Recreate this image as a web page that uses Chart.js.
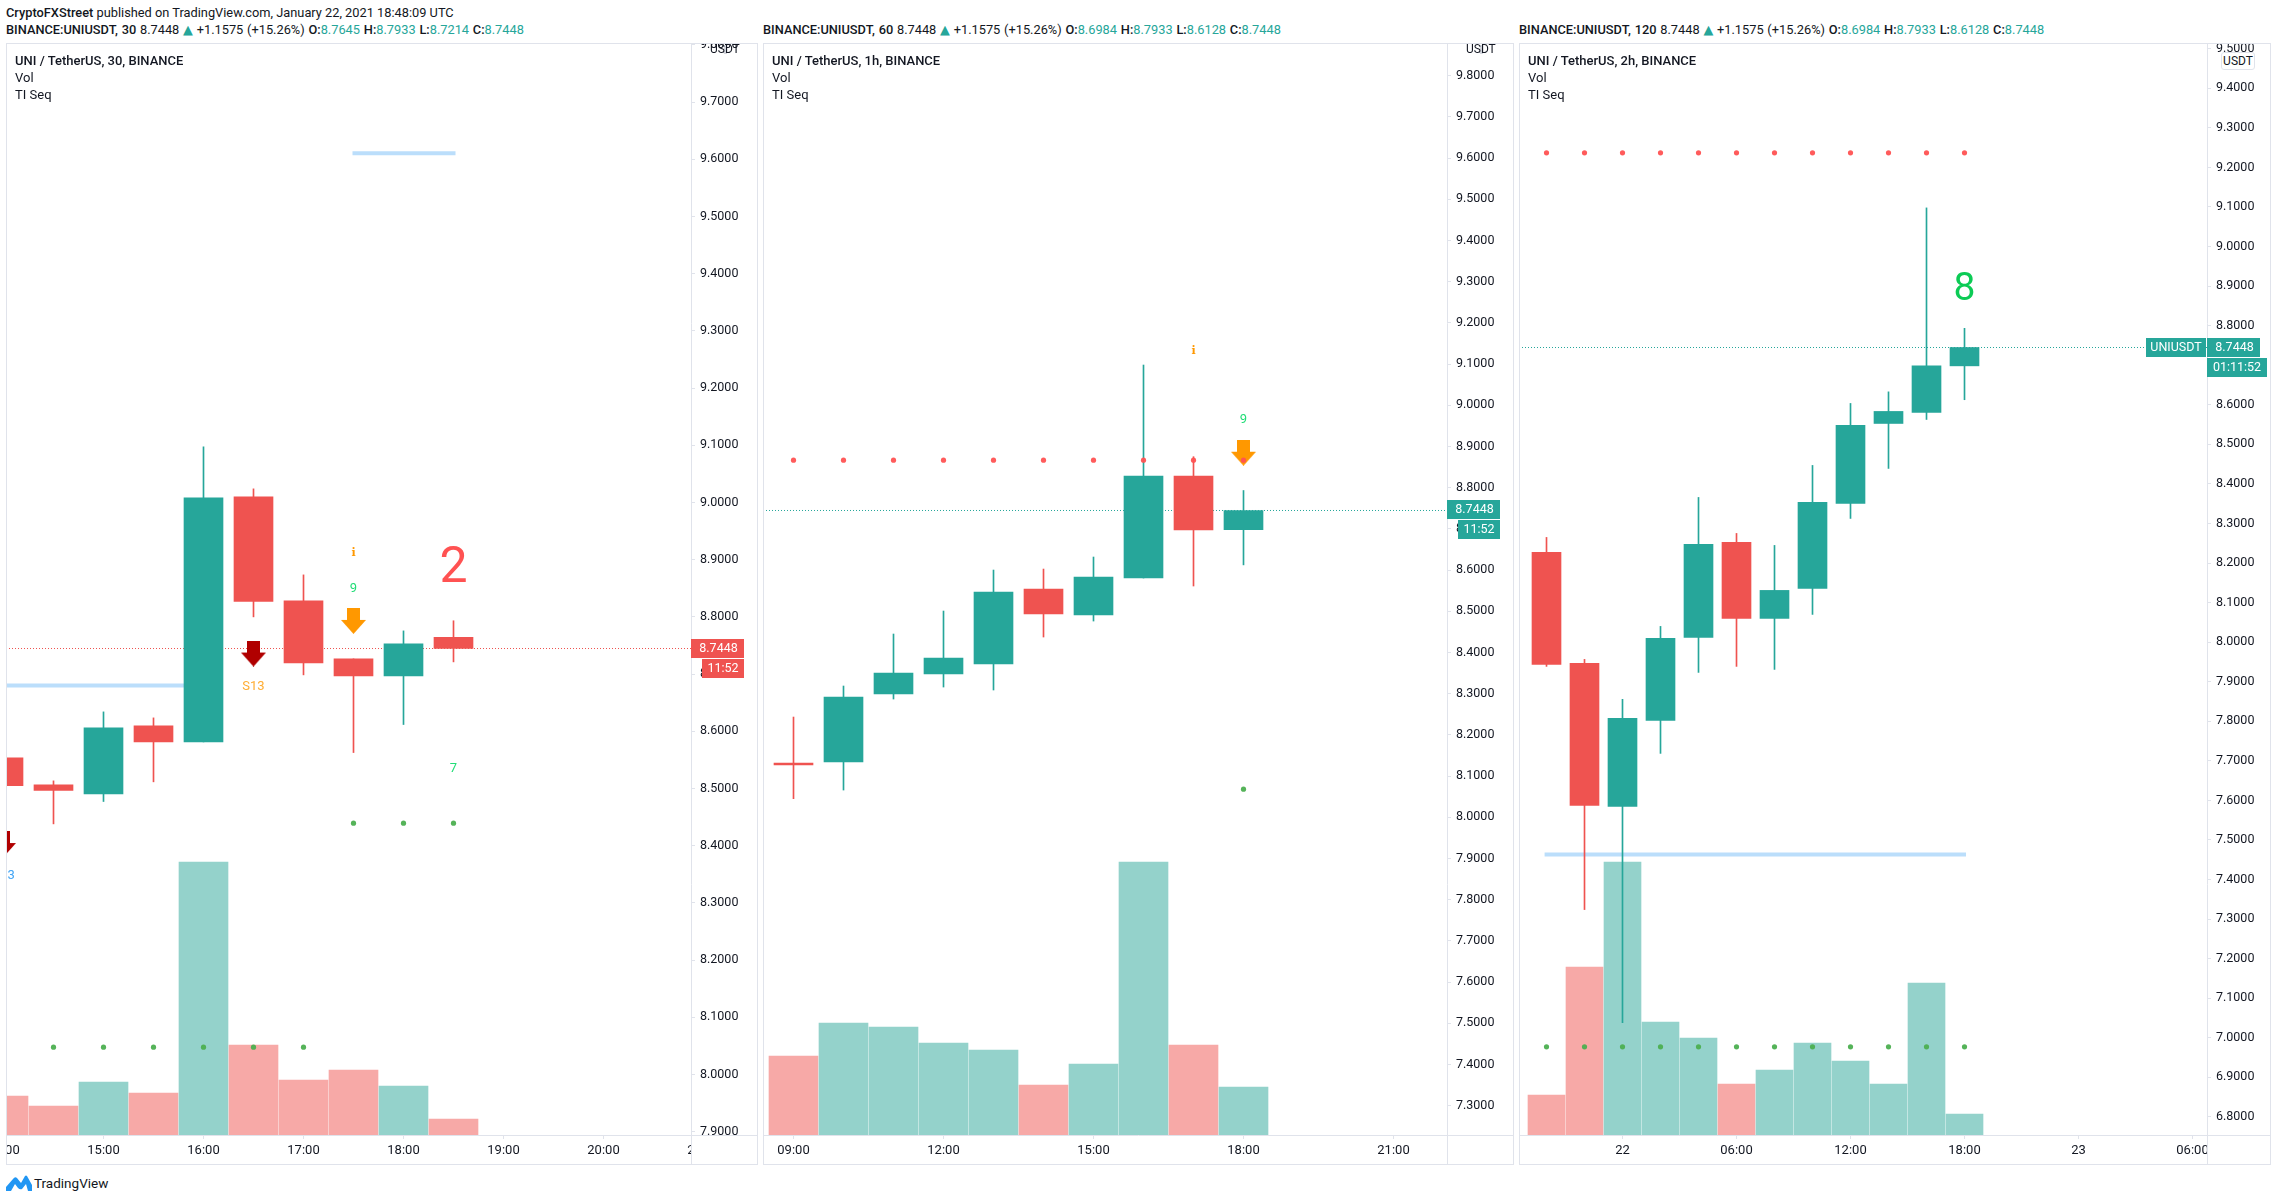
<!DOCTYPE html>
<html>
<head>
<meta charset="utf-8">
<title>UNI / TetherUS</title>
<script src="https://cdn.jsdelivr.net/npm/chart.js@4/dist/chart.umd.min.js"></script>
<style>
  html, body { margin: 0; padding: 0; background: #fff; }
  body { position: relative; width: 2277px; height: 1201px; overflow: hidden; font-family: Roboto, sans-serif; color: #131722; }
  canvas { position: absolute; top: 43px; }
  .txt { position: absolute; white-space: nowrap; font-size: 13px; line-height: 16px; }
  .hd { font-size: 12.8px; }
  .hd2 { word-spacing: 0.6px; }
  .b { font-weight: 500; }
  .up { color: #26a69a; }
  .tri { color: #26a69a; font-family: "DejaVu Sans", sans-serif; line-height: 0; }
  .unit { font-size: 12px; }
  .mark { position: absolute; top: 45px; width: 3px; height: 9px; background: #d5d8df; }
</style>
</head>
<body>

<div class="txt hd" style="left:6px;top:5px"><span class="b">CryptoFXStreet</span> published on TradingView.com, January 22, 2021 18:48:09 UTC</div>

<div class="txt hd hd2" style="left:6px;top:22px"><span class="b">BINANCE:UNIUSDT, 30</span> 8.7448 <span class="tri">▲</span> +1.1575 (+15.26%) <span class="b">O:</span><span class="up">8.7645</span> <span class="b">H:</span><span class="up">8.7933</span> <span class="b">L:</span><span class="up">8.7214</span> <span class="b">C:</span><span class="up">8.7448</span></div>
<div class="txt hd hd2" style="left:763px;top:22px"><span class="b">BINANCE:UNIUSDT, 60</span> 8.7448 <span class="tri">▲</span> +1.1575 (+15.26%) <span class="b">O:</span><span class="up">8.6984</span> <span class="b">H:</span><span class="up">8.7933</span> <span class="b">L:</span><span class="up">8.6128</span> <span class="b">C:</span><span class="up">8.7448</span></div>
<div class="txt hd hd2" style="left:1519px;top:22px"><span class="b">BINANCE:UNIUSDT, 120</span> 8.7448 <span class="tri">▲</span> +1.1575 (+15.26%) <span class="b">O:</span><span class="up">8.6984</span> <span class="b">H:</span><span class="up">8.7933</span> <span class="b">L:</span><span class="up">8.6128</span> <span class="b">C:</span><span class="up">8.7448</span></div>

<canvas id="chart30" width="752" height="1122" style="left:6px"></canvas>
<canvas id="chart60" width="751" height="1122" style="left:763px"></canvas>
<canvas id="chart120" width="752" height="1122" style="left:1519px"></canvas>

<div class="txt b" style="left:15px;top:53px">UNI / TetherUS, 30, BINANCE</div>
<div class="txt" style="left:15px;top:70px">Vol</div>
<div class="txt" style="left:15px;top:87px">TI Seq</div>
<div class="txt b" style="left:772px;top:53px">UNI / TetherUS, 1h, BINANCE</div>
<div class="txt" style="left:772px;top:70px">Vol</div>
<div class="txt" style="left:772px;top:87px">TI Seq</div>
<div class="txt b" style="left:1528px;top:53px">UNI / TetherUS, 2h, BINANCE</div>
<div class="txt" style="left:1528px;top:70px">Vol</div>
<div class="txt" style="left:1528px;top:87px">TI Seq</div>

<div class="mark" style="left:724px"></div>
<div class="mark" style="left:1480px"></div>
<div class="txt unit" style="left:710px;top:41px">USDT</div>
<div class="txt unit" style="left:1466px;top:41px">USDT</div>
<div class="txt unit" style="left:2221px;top:52px;width:32px;height:16px;text-align:center;border:1px solid #e0e3eb;border-radius:3px;background:#fff">USDT</div>

<svg style="position:absolute;left:6px;top:1175px" width="26" height="16" viewBox="0 0 26 16">
  <path fill="#2196f3" d="M0 16 L0 12 L7 4 Q9 1 11 3 L15 8 L19 1 Q20 0 21 1 L26 10 L26 16 L22 16 L20 9 L16 14 Q14 15 12 13 L9 9 L5 16 Z"/>
</svg>
<div class="txt" style="left:34px;top:1175px;font-size:13.5px">TradingView</div>

<script>
// ====================
// Data: 30 minute chart
// ====================

const hours30 = [14, 14.5, 15, 15.5, 16, 16.5, 17, 17.5, 18, 18.5];
const opens30 = [8.5536, 8.5064, 8.4907, 8.6096, 8.5816, 9.0099, 8.8281, 8.7267, 8.6970, 8.7645];
const highs30 = [8.5600, 8.5134, 8.6340, 8.6235, 9.0973, 9.0239, 8.8735, 8.7267, 8.7756, 8.7933];
const lows30 = [8.4900, 8.4382, 8.4773, 8.5117, 8.5816, 8.8001, 8.6987, 8.5629, 8.6119, 8.7214];
const closes30 = [8.5052, 8.4965, 8.6061, 8.5816, 9.0082, 8.8269, 8.7197, 8.6970, 8.7529, 8.7448];
const volumes30 = [39, 29, 53, 42, 273, 90, 55, 65, 49, 16];

const priceTicks30 = [7.9, 8, 8.1, 8.2, 8.3, 8.4, 8.5, 8.6, 8.7, 8.8, 8.9, 9, 9.1, 9.2, 9.3, 9.4, 9.5, 9.6, 9.7, 9.8];
const timeTicks30 = [14, 15, 16, 17, 18, 19, 20, 21];
const timeLabels30 = ["14:00", "15:00", "16:00", "17:00", "18:00", "19:00", "20:00", "21:00"];

const greenDotHours30 = [14.5, 15, 15.5, 16, 16.5, 17, 17.5, 18, 18.5];
const greenDotPrices30 = [8.0479, 8.0479, 8.0479, 8.0479, 8.0479, 8.0479, 8.4395, 8.4395, 8.4395];
const redDotHours30 = [];
const redDotPrices30 = [];

const sellArrowHours30 = [14, 16.5];
const sellArrowPrices30 = [8.403, 8.736];
const setupArrowHours30 = [17.5];
const setupArrowPrices30 = [8.793];

const textHours30 = [14, 16.5, 17.5, 17.5, 18.5, 18.5];
const textPrices30 = [8.3497, 8.68, 8.9133, 8.8503, 8.888, 8.5356];
const textValues30 = ["B13", "S13", "i", "9", "2", "7"];

const levelLines30 = [
  { hours: [17.49, 18.52], price: 9.6108 },
  { hours: [13.5, 16], price: 8.68 },
];

// ====================
// Data: 1 hour chart
// ====================

const hours60 = [9, 10, 11, 12, 13, 14, 15, 16, 17, 18];
const opens60 = [8.1319, 8.1343, 8.2994, 8.3479, 8.3722, 8.5542, 8.4911, 8.5809, 8.8285, 8.6984];
const highs60 = [8.2435, 8.3188, 8.4450, 8.5008, 8.6003, 8.6027, 8.6319, 9.0979, 8.8754, 8.7933];
const lows60 = [8.0453, 8.0663, 8.2872, 8.3163, 8.3091, 8.4377, 8.4765, 8.5809, 8.5615, 8.6128];
const closes60 = [8.1270, 8.2921, 8.3503, 8.3867, 8.5469, 8.4935, 8.5833, 8.8285, 8.6974, 8.7448];
const volumes60 = [79, 112, 108, 92, 85, 50, 71, 273, 90, 48];

const priceTicks60 = [7.3, 7.4, 7.5, 7.6, 7.7, 7.8, 7.9, 8, 8.1, 8.2, 8.3, 8.4, 8.5, 8.6, 8.7, 8.8, 8.9, 9, 9.1, 9.2, 9.3, 9.4, 9.5, 9.6, 9.7, 9.8];
const timeTicks60 = [9, 12, 15, 18, 21];
const timeLabels60 = ["09:00", "12:00", "15:00", "18:00", "21:00"];

const greenDotHours60 = [18];
const greenDotPrices60 = [8.0684];
const redDotHours60 = [9, 10, 11, 12, 13, 14, 15, 16, 17, 18];
const redDotPrices60 = [8.867, 8.867, 8.867, 8.867, 8.867, 8.867, 8.867, 8.867, 8.867, 8.867];

const sellArrowHours60 = [];
const sellArrowPrices60 = [];
const setupArrowHours60 = [18];
const setupArrowPrices60 = [8.885];

const textHours60 = [17, 18];
const textPrices60 = [9.134, 8.9665];
const textValues60 = ["i", "9"];

const levelLines60 = [];

// ====================
// Data: 2 hour chart (hours counted from Jan 22 00:00)
// ====================

const hours120 = [-4, -2, 0, 2, 4, 6, 8, 10, 12, 14, 16, 18];
const opens120 = [8.2268, 7.9462, 7.5848, 7.8022, 8.0120, 8.2521, 8.0600, 8.1358, 8.3506, 8.5528, 8.5806, 8.6984];
const highs120 = [8.2647, 7.9564, 7.8553, 8.0398, 8.3658, 8.2748, 8.2445, 8.4467, 8.6034, 8.6327, 9.0977, 8.7933];
const lows120 = [7.9387, 7.3240, 7.0384, 7.7188, 7.9235, 7.9387, 7.9311, 8.0701, 8.3127, 8.4391, 8.5629, 8.6128];
const closes120 = [7.9437, 7.5874, 7.8072, 8.0094, 8.2470, 8.0600, 8.1308, 8.3532, 8.5478, 8.5832, 8.6984, 8.7448];
const volumes120 = [40, 168, 273, 113, 97, 51, 65, 92, 74, 51, 152, 21];

const priceTicks120 = [6.8, 6.9, 7, 7.1, 7.2, 7.3, 7.4, 7.5, 7.6, 7.7, 7.8, 7.9, 8, 8.1, 8.2, 8.3, 8.4, 8.5, 8.6, 8.7, 8.8, 8.9, 9, 9.1, 9.2, 9.3, 9.4, 9.5];
const timeTicks120 = [0, 6, 12, 18, 24, 30];
const timeLabels120 = ["22", "06:00", "12:00", "18:00", "23", "06:00"];

const greenDotHours120 = [-4, -2, 0, 2, 4, 6, 8, 10, 12, 14, 16, 18];
const greenDotPrices120 = [6.977, 6.977, 6.977, 6.977, 6.977, 6.977, 6.977, 6.977, 6.977, 6.977, 6.977, 6.977];
const redDotHours120 = [-4, -2, 0, 2, 4, 6, 8, 10, 12, 14, 16, 18];
const redDotPrices120 = [9.2369, 9.2369, 9.2369, 9.2369, 9.2369, 9.2369, 9.2369, 9.2369, 9.2369, 9.2369, 9.2369, 9.2369];

const sellArrowHours120 = [];
const sellArrowPrices120 = [];
const setupArrowHours120 = [];
const setupArrowPrices120 = [];

const textHours120 = [18];
const textPrices120 = [8.898];
const textValues120 = ["8"];

const levelLines120 = [{ hours: [-4.1, 18.08], price: 7.463 }];

const lastPrice = 8.7448;

// ====================
// Styles
// ====================

const TEAL = "#26a69a";
const RED = "#ef5350";
const TEAL_VOL = "#94d2cb";
const RED_VOL = "#f7a9a7";
const BORDER = "#e0e3eb";
const TEXT = "#131722";
const FONT = "Roboto, sans-serif";

const textStyles = {
  "2": { font: "50px " + FONT, color: "#ff5252", dy: 3 },
  "8": { font: "39px " + FONT, color: "#0ccb55", dy: 3 },
  "9": { font: "13px " + FONT, color: "#22dd77", dy: 1 },
  "7": { font: "13px " + FONT, color: "#22dd77", dy: 1 },
  i: { font: "bold 11px 'DejaVu Serif', serif", color: "#ff9800", dy: 1 },
  S13: { font: "13px " + FONT, color: "#ffad33", dy: 1 },
  B13: { font: "13px " + FONT, color: "#42a5f5", dy: 1 },
};

function arrowImage(color) {
  const c = document.createElement("canvas");
  c.width = 25;
  c.height = 26;
  const g = c.getContext("2d");
  g.fillStyle = color;
  g.fillRect(6, 0, 13, 13);
  g.beginPath();
  g.moveTo(0, 12);
  g.lineTo(25, 12);
  g.lineTo(12.5, 26);
  g.closePath();
  g.fill();
  return c;
}

function points(xs, ys) {
  return xs.map((x, i) => ({ x: x, y: ys[i] }));
}

// ====================
// Panel plugin: frame, tags, small texts
// ====================

function panelPlugin(p) {
  return {
    id: "panel",

    // x labels were just drawn, cover what runs under the price axis
    beforeDatasetsDraw(chart) {
      const a = chart.chartArea;
      const ctx = chart.ctx;
      ctx.save();
      ctx.fillStyle = "#fff";
      ctx.fillRect(a.right, a.bottom + 1, chart.width - a.right, chart.height - a.bottom);
      ctx.restore();
    },

    afterDatasetsDraw(chart) {
      const a = chart.chartArea;
      const ctx = chart.ctx;
      ctx.save();
      ctx.beginPath();
      ctx.rect(a.left, a.top, a.right - a.left, a.bottom - a.top);
      ctx.clip();
      ctx.textAlign = "center";
      ctx.textBaseline = "middle";
      p.textValues.forEach((t, i) => {
        const s = textStyles[t];
        ctx.font = s.font;
        ctx.fillStyle = s.color;
        ctx.fillText(t, chart.scales.x.getPixelForValue(p.textHours[i]), chart.scales.y.getPixelForValue(p.textPrices[i]) + s.dy);
      });
      ctx.restore();
    },

    afterDraw(chart) {
      const a = chart.chartArea;
      const ctx = chart.ctx;
      ctx.save();
      ctx.strokeStyle = BORDER;
      ctx.lineWidth = 1;
      ctx.strokeRect(0.5, 0.5, chart.width - 1, chart.height - 1);
      ctx.beginPath();
      ctx.moveTo(a.right + 0.5, 0);
      ctx.lineTo(a.right + 0.5, chart.height);
      ctx.moveTo(0, a.bottom + 0.5);
      ctx.lineTo(chart.width, a.bottom + 0.5);
      ctx.stroke();

      const mid = Math.round(chart.scales.y.getPixelForValue(lastPrice));
      ctx.font = "12.5px " + FONT;
      ctx.textBaseline = "middle";
      ctx.textAlign = "center";
      ctx.fillStyle = p.tagColor;
      ctx.fillRect(a.right, mid - 10, p.tagWidth, 19);
      ctx.fillRect(a.right + p.timerGap, mid + 10, p.tagWidth - p.timerGap + p.timerExtra, 19);
      if (p.symbolTag) {
        ctx.fillRect(a.right - 61, mid - 10, 60, 19);
      }
      ctx.fillStyle = "#fff";
      ctx.fillText(lastPrice.toFixed(4), a.right + p.tagWidth / 2 + 1, mid);
      ctx.fillText(p.timer, a.right + p.timerGap + (p.tagWidth - p.timerGap + p.timerExtra) / 2, mid + 20);
      if (p.symbolTag) {
        ctx.fillText(p.symbolTag, a.right - 31, mid);
      }
      ctx.restore();
    },
  };
}

// ====================
// Build one chart
// ====================

function drawPanel(id, p) {
  const up = p.opens.map((o, i) => p.closes[i] >= o);
  const lines = p.levelLines.map((l) => ({
    type: "line",
    data: l.hours.map((h) => ({ x: h, y: l.price })),
    borderColor: "#bbdefb",
    borderWidth: 4,
    pointRadius: 0,
    order: 6,
  }));

  const barStyle = { grouped: false, barPercentage: 1, categoryPercentage: 1, borderWidth: 0 };

  new Chart(document.getElementById(id), {
    data: {
      datasets: [
        {
          type: "bar",
          ...barStyle,
          yAxisID: "yVol",
          data: points(p.hours, p.volumes),
          backgroundColor: up.map((u) => (u ? TEAL_VOL : RED_VOL)),
          maxBarThickness: p.volumeWidth,
          order: 8,
        },
        {
          type: "line",
          data: [{ x: p.xRange[0], y: lastPrice }, { x: p.xRange[1], y: lastPrice }],
          borderColor: p.tagColor,
          borderWidth: 1,
          borderDash: [1, 2],
          pointRadius: 0,
          order: 7,
        },
        ...lines,
        {
          type: "bar",
          ...barStyle,
          data: p.hours.map((h, i) => ({ x: h, y: [p.lows[i], p.highs[i]] })),
          backgroundColor: up.map((u) => (u ? TEAL : RED)),
          maxBarThickness: 1,
          order: 5,
        },
        {
          type: "bar",
          ...barStyle,
          data: p.hours.map((h, i) => ({ x: h, y: [p.opens[i], p.closes[i]] })),
          backgroundColor: up.map((u) => (u ? TEAL : RED)),
          maxBarThickness: p.bodyWidth,
          order: 4,
        },
        {
          type: "line",
          showLine: false,
          data: points(p.sellArrowHours, p.sellArrowPrices),
          pointStyle: arrowImage("#b00000"),
          pointRadius: 14,
          order: 3,
        },
        {
          type: "line",
          showLine: false,
          data: points(p.setupArrowHours, p.setupArrowPrices),
          pointStyle: arrowImage("#ff9800"),
          pointRadius: 14,
          order: 3,
        },
        {
          type: "line",
          showLine: false,
          data: points(p.greenDotHours, p.greenDotPrices),
          pointRadius: 2.6,
          pointBorderWidth: 0,
          pointBackgroundColor: "rgba(76,175,80,0.95)",
          order: 2,
        },
        {
          type: "line",
          showLine: false,
          data: points(p.redDotHours, p.redDotPrices),
          pointRadius: 2.6,
          pointBorderWidth: 0,
          pointBackgroundColor: "rgba(255,82,82,0.95)",
          order: 2,
        },
      ],
    },

    options: {
      responsive: false,
      animation: false,
      events: [],
      layout: { padding: 0, autoPadding: false },

      plugins: {
        legend: { display: false },
        tooltip: { enabled: false },
      },

      scales: {
        x: {
          type: "linear",
          position: "bottom",
          offset: false,
          min: p.xRange[0],
          max: p.xRange[1],
          z: 0,
          border: { display: false },
          grid: { offset: false, drawOnChartArea: false, tickLength: 4, tickColor: BORDER },
          ticks: {
            autoSkip: false,
            maxRotation: 0,
            padding: 4,
            color: TEXT,
            font: { family: FONT, size: 13 },
            callback: (v) => p.timeLabels[p.timeTicks.indexOf(v)],
          },
          afterBuildTicks: (axis) => {
            axis.ticks = p.timeTicks.map((t) => ({ value: t }));
          },
          afterFit: (axis) => {
            axis.height = 30;
            axis.paddingLeft = 0;
            axis.paddingRight = 0;
          },
        },
        y: {
          position: "right",
          min: p.yRange[0],
          max: p.yRange[1],
          z: 1,
          border: { display: false },
          grid: { drawOnChartArea: false, tickLength: 4, tickColor: BORDER },
          ticks: {
            autoSkip: false,
            padding: 5,
            color: TEXT,
            font: { family: FONT, size: 12.5 },
            callback: (v) => v.toFixed(4),
          },
          afterBuildTicks: (axis) => {
            axis.ticks = p.priceTicks.map((t) => ({ value: t }));
          },
          afterFit: (axis) => {
            axis.width = p.axisWidth;
            axis.paddingTop = 0;
            axis.paddingBottom = 0;
          },
        },
        yVol: {
          display: false,
          min: 0,
          max: 1092,
        },
      },
    },

    plugins: [panelPlugin(p)],
  });
}

// ====================
// The three panels
// ====================

drawPanel("chart30", {
  hours: hours30, opens: opens30, highs: highs30, lows: lows30, closes: closes30, volumes: volumes30,
  priceTicks: priceTicks30, timeTicks: timeTicks30, timeLabels: timeLabels30,
  greenDotHours: greenDotHours30, greenDotPrices: greenDotPrices30,
  redDotHours: redDotHours30, redDotPrices: redDotPrices30,
  sellArrowHours: sellArrowHours30, sellArrowPrices: sellArrowPrices30,
  setupArrowHours: setupArrowHours30, setupArrowPrices: setupArrowPrices30,
  textHours: textHours30, textPrices: textPrices30, textValues: textValues30,
  levelLines: levelLines30,
  xRange: [14.025, 20.875], yRange: [7.89428, 9.80337],
  axisWidth: 67, bodyWidth: 39, volumeWidth: 49,
  tagColor: RED, tagWidth: 53, timerGap: 11, timerExtra: 0, timer: "11:52",
});

drawPanel("chart60", {
  hours: hours60, opens: opens60, highs: highs60, lows: lows60, closes: closes60, volumes: volumes60,
  priceTicks: priceTicks60, timeTicks: timeTicks60, timeLabels: timeLabels60,
  greenDotHours: greenDotHours60, greenDotPrices: greenDotPrices60,
  redDotHours: redDotHours60, redDotPrices: redDotPrices60,
  sellArrowHours: sellArrowHours60, sellArrowPrices: sellArrowPrices60,
  setupArrowHours: setupArrowHours60, setupArrowPrices: setupArrowPrices60,
  textHours: textHours60, textPrices: textPrices60, textValues: textValues60,
  levelLines: levelLines60,
  xRange: [8.39, 22.07], yRange: [7.22902, 9.87951],
  axisWidth: 67, bodyWidth: 39, volumeWidth: 49,
  tagColor: TEAL, tagWidth: 53, timerGap: 11, timerExtra: 0, timer: "11:52",
});

drawPanel("chart120", {
  hours: hours120, opens: opens120, highs: highs120, lows: lows120, closes: closes120, volumes: volumes120,
  priceTicks: priceTicks120, timeTicks: timeTicks120, timeLabels: timeLabels120,
  greenDotHours: greenDotHours120, greenDotPrices: greenDotPrices120,
  redDotHours: redDotHours120, redDotPrices: redDotPrices120,
  sellArrowHours: sellArrowHours120, sellArrowPrices: sellArrowPrices120,
  setupArrowHours: setupArrowHours120, setupArrowPrices: setupArrowPrices120,
  textHours: textHours120, textPrices: textPrices120, textValues: textValues120,
  levelLines: levelLines120,
  xRange: [-5.4474, 30.763], yRange: [6.75417, 9.51452],
  axisWidth: 64, bodyWidth: 29, volumeWidth: 37,
  tagColor: TEAL, tagWidth: 53, timerGap: 0, timerExtra: 7, timer: "01:11:52", symbolTag: "UNIUSDT",
});
</script>
</body>
</html>
